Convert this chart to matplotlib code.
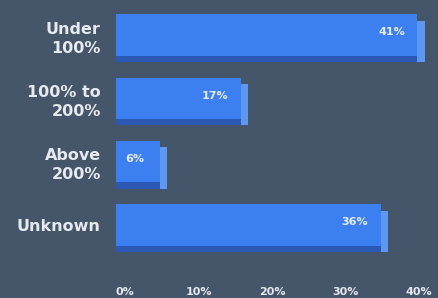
import numpy as np
import matplotlib.pyplot as plt
from matplotlib.transforms import ScaledTranslation

# income relative to poverty line
categories = ['Under\n100%', '100% to\n200%', 'Above\n200%', 'Unknown']
values = [41, 17, 6, 36]
value_labels = ['41%', '17%', '6%', '36%']
ticks = [0, 10, 20, 30, 40]
tick_labels = ['0%', '10%', '20%', '30%', '40%']

bg = '#45556a'
face = '#3b7ff0'
shade = '#2a58b2'
edge = '#5e97f2'
txt = '#e6e9ee'

fig = plt.figure(figsize=(4.38, 2.98), dpi=100, facecolor=bg)
ax = fig.add_axes([116/438, 1 - 260/298, (435-116)/438, 255/298])
ax.set_facecolor(bg)

y = np.arange(len(values))
h = 0.65
vals = np.array(values)

# fake 3d depth: dark strip under, light side on the right
ax.barh(y + 0.1, vals + 1.0, height=h, color=edge, zorder=1)
ax.barh(y + 0.1, vals, height=h, color=shade, zorder=2)
ax.barh(y, values, height=h, color=face, zorder=3)

for yi, v, lab in zip(y, values, value_labels):
    ax.text(v - 3.5, yi - 0.04, lab, ha='center', va='center', color=txt,
            fontsize=8, fontweight='bold', zorder=4)

ax.set_yticks(y)
ax.set_yticklabels(categories, fontsize=11.5, fontweight='bold', color=txt,
                   linespacing=1.35)
ax.set_xticks(ticks)
ax.set_xticklabels(tick_labels, fontsize=8, fontweight='bold', color=txt)
ax.tick_params(length=0)
ax.tick_params(axis='x', pad=19.5)
ax.tick_params(axis='y', pad=11)
for lab in ax.get_xticklabels():
    lab.set_transform(lab.get_transform() + ScaledTranslation(0.09, 0, fig.dpi_scale_trans))
ax.set_xlim(0, 43.4)
ax.set_ylim(3.553, -0.474)
for s in ax.spines.values():
    s.set_visible(False)

fig.savefig('out.png', dpi=100, facecolor=bg)
